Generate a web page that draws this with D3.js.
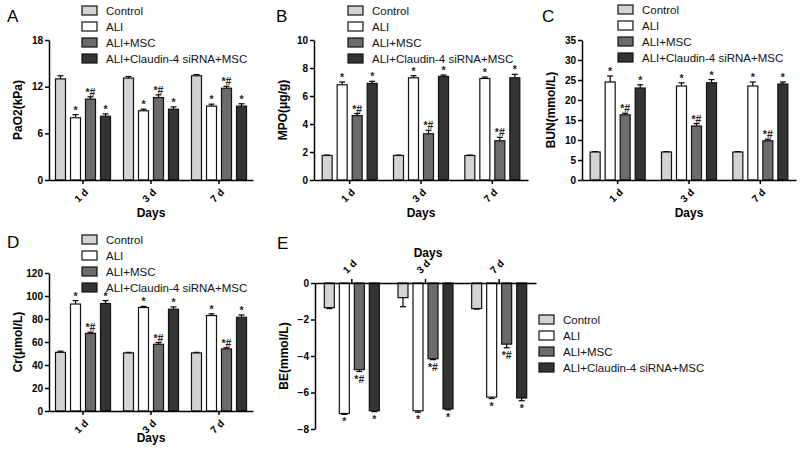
<!DOCTYPE html>
<html>
<head>
<meta charset="utf-8">
<script src="https://cdn.jsdelivr.net/npm/d3@7"></script>
<style>
  body { margin: 0; background: #fff; }
  svg { font-family: Arial, "Liberation Sans", sans-serif; }
</style>
</head>
<body>
<svg id="chart" width="800" height="455"></svg>
<script>
// ── Données ───────────────────────────────────────────────
const days   = ['1 d', '3 d', '7 d'];
const groups = ['Control', 'ALI', 'ALI+MSC', 'ALI+Claudin-4 siRNA+MSC'];
const marks  = ['', '*', '*#', '*'];
const FILL   = ['#d4d4d4', '#ffffff', '#6c6c6c', '#343434'];

// une ligne par groupe, une colonne par jour
const pao2     = [[13.0, 13.1, 13.4], [8.0, 8.9, 9.5], [10.4, 10.6, 11.8], [8.2, 9.1, 9.5]];
const pao2Err  = [[0.4, 0.2, 0.15], [0.4, 0.2, 0.25], [0.3, 0.35, 0.25], [0.3, 0.3, 0.3]];
const mpo      = [[1.75, 1.75, 1.75], [6.8, 7.3, 7.25], [4.6, 3.3, 2.8], [6.9, 7.4, 7.3]];
const mpoErr   = [[0.03, 0.03, 0.03], [0.2, 0.15, 0.1], [0.15, 0.25, 0.25], [0.15, 0.1, 0.25]];
const bun      = [[7.0, 7.0, 7.0], [24.5, 23.5, 23.5], [16.3, 13.5, 9.8], [23.0, 24.3, 24.0]];
const bunErr   = [[0.1, 0.1, 0.1], [1.5, 0.8, 1.0], [0.4, 0.6, 0.4], [0.8, 0.8, 0.5]];
const cr       = [[51, 50.5, 50.5], [93, 90, 83], [67.5, 58, 54], [93.5, 88.5, 81.5]];
const crErr    = [[1, 0.5, 0.5], [3, 1, 1.5], [1, 1.5, 1], [2.5, 2, 2]];
const be       = [[-1.35, -0.8, -1.4], [-7.15, -7.0, -6.25], [-4.75, -4.15, -3.35], [-7.0, -6.9, -6.3]];
const beErr    = [[0.05, 0.5, 0.03], [0.05, 0.08, 0.08], [0.1, 0.05, 0.2], [0.05, 0.05, 0.15]];

const svg = d3.select('#chart');

function panel(o) {
  const g = svg.append('g');
  const neg = o.domain[0] < 0;

  const x = d3.scaleBand().domain(days).range([o.x0, o.x1]);
  const inner = d3.scaleBand().domain(d3.range(groups.length))
    .range([-30, 30]).paddingInner(0.333).paddingOuter(0.166);
  const y = d3.scaleLinear().domain(o.domain).range(o.range);
  const base = y(0);

  // barres
  groups.forEach((grp, gi) => {
    days.forEach((d, di) => {
      const v = o.values[gi][di], e = o.errs[gi][di];
      const cx = x(d) + x.bandwidth() / 2 + inner(gi) + inner.bandwidth() / 2;
      const top = y(v);
      const end = y(v + (neg ? -e : e));
      // barre d'erreur
      g.append('line').attr('x1', cx).attr('x2', cx).attr('y1', top).attr('y2', end)
        .attr('stroke', '#000').attr('stroke-width', 1.2);
      g.append('line').attr('x1', cx - 3).attr('x2', cx + 3).attr('y1', end).attr('y2', end)
        .attr('stroke', '#000').attr('stroke-width', 1.2);
      g.append('rect')
        .attr('x', cx - 5).attr('width', 10)
        .attr('y', Math.min(top, base)).attr('height', Math.abs(base - top))
        .attr('fill', FILL[gi]).attr('stroke', '#111').attr('stroke-width', 1.2);
      if (marks[gi]) {
        g.append('text')
          .attr('x', cx).attr('y', neg ? end + 11 : end - 1)
          .attr('text-anchor', 'middle').attr('font-size', 10.5).attr('font-weight', 'bold')
          .attr('fill', '#222').text(marks[gi]);
      }
    });
  });

  // axe Y
  const ya = g.append('g').attr('transform', `translate(${o.x0},0)`)
    .call(d3.axisLeft(y).tickValues(o.ticks).tickSize(4).tickPadding(2).tickSizeOuter(0));
  ya.select('.domain').attr('stroke-width', 1.5);
  ya.selectAll('line').attr('stroke-width', 1.5);
  ya.selectAll('text').attr('font-size', 10).attr('font-weight', 'bold').attr('fill', '#000');

  // axe X
  const xa = g.append('g').attr('transform', `translate(0,${base})`)
    .call((neg ? d3.axisTop(x) : d3.axisBottom(x)).tickSize(4).tickSizeOuter(0).tickPadding(0));
  xa.select('.domain').attr('stroke-width', 1.5);
  xa.selectAll('line').attr('stroke-width', 1.5);
  xa.selectAll('text').attr('font-size', 10).attr('font-weight', 'bold').attr('fill', '#000')
    .attr('dy', null)
    .attr('text-anchor', neg ? 'start' : 'end')
    .attr('transform', neg ? 'translate(-2,-6) rotate(-45)' : 'translate(3,10) rotate(-45)');

  // titres
  const [ra, rb] = o.range;
  g.append('text')
    .attr('transform', `translate(${o.x0 - 27},${(ra + rb) / 2}) rotate(-90)`)
    .attr('text-anchor', 'middle').attr('font-size', 12).attr('font-weight', 'bold')
    .text(o.ylabel);
  g.append('text')
    .attr('x', o.daysX).attr('y', o.daysY)
    .attr('text-anchor', 'middle').attr('font-size', 12).attr('font-weight', 'bold')
    .text('Days');
  g.append('text').attr('x', o.letter[0]).attr('y', o.letter[1])
    .attr('font-size', 17).text(o.name);

  // légende
  const lg = g.append('g').attr('transform', `translate(${o.legend[0]},${o.legend[1]})`);
  groups.forEach((grp, gi) => {
    const row = lg.append('g').attr('transform', `translate(0,${gi * 16})`);
    row.append('rect').attr('x', 0).attr('y', -5).attr('width', 15).attr('height', 9)
      .attr('fill', FILL[gi]).attr('stroke', '#111').attr('stroke-width', 1.2);
    row.append('text').attr('x', 24).attr('y', 0).attr('dy', '0.35em')
      .attr('font-size', 11.5).attr('fill', '#111').text(grp);
  });
}

panel({ name: 'A', letter: [7, 22], x0: 49, x1: 253, range: [180, 40],
  domain: [0, 18], ticks: [0, 6, 12, 18], values: pao2, errs: pao2Err,
  ylabel: 'PaO2(kPa)', daysX: 151, daysY: 217, legend: [82, 11] });
panel({ name: 'B', letter: [276, 22], x0: 314, x1: 528, range: [180, 40],
  domain: [0, 10], ticks: [0, 2, 4, 6, 8, 10], values: mpo, errs: mpoErr,
  ylabel: 'MPO(μg/g)', daysX: 421, daysY: 217, legend: [348, 11] });
panel({ name: 'C', letter: [542, 22], x0: 582, x1: 796, range: [180, 40],
  domain: [0, 35], ticks: [0, 5, 10, 15, 20, 25, 30, 35], values: bun, errs: bunErr,
  ylabel: 'BUN(mmol/L)', daysX: 689, daysY: 217, legend: [618, 10] });
panel({ name: 'D', letter: [7, 248], x0: 49, x1: 253, range: [411, 273],
  domain: [0, 120], ticks: [0, 20, 40, 60, 80, 100, 120], values: cr, errs: crErr,
  ylabel: 'Cr(μmol/L)', daysX: 151, daysY: 442, legend: [82, 240] });
panel({ name: 'E', letter: [277, 249], x0: 315, x1: 536, range: [429, 283],
  domain: [-8, 0], ticks: [-8, -6, -4, -2, 0], values: be, errs: beErr,
  ylabel: 'BE(mmol/L)', daysX: 428, daysY: 257, legend: [539, 320] });
</script>
</body>
</html>
